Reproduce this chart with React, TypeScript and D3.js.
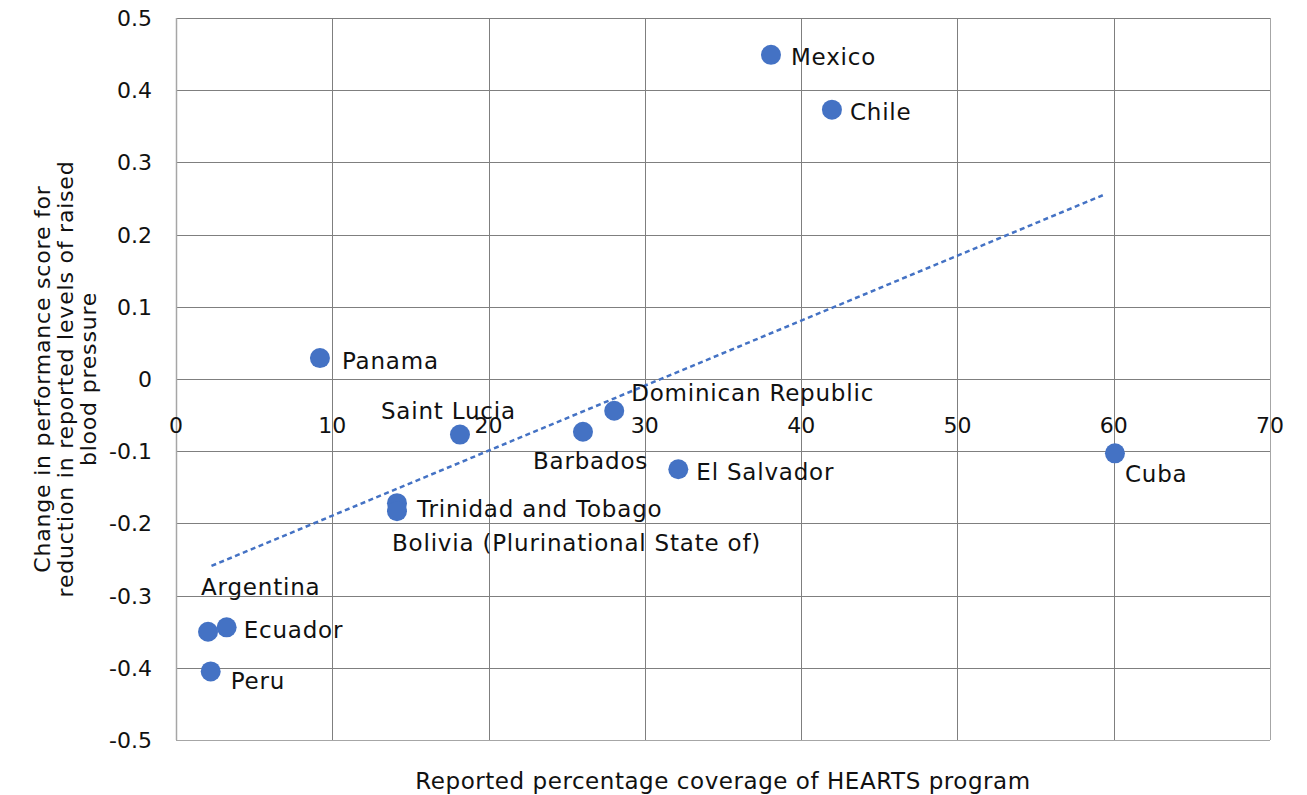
import React from "react";
import * as d3 from "d3";

const countries = [
  "Mexico", "Chile", "Panama", "Saint Lucia", "Barbados", "Dominican Republic",
  "El Salvador", "Cuba", "Trinidad and Tobago", "Bolivia (Plurinational State of)",
  "Argentina", "Ecuador", "Peru",
];
const coverage = [38.07, 41.97, 9.21, 18.17, 26.04, 28.04, 32.14, 60.08, 14.14, 14.14, 2.05, 3.24, 2.22];
const scoreChange = [0.449, 0.373, 0.029, -0.077, -0.073, -0.044, -0.125, -0.103, -0.172, -0.183, -0.350, -0.344, -0.405];

const xTicks = [0, 10, 20, 30, 40, 50, 60, 70];
const yTicks = [0.5, 0.4, 0.3, 0.2, 0.1, 0, -0.1, -0.2, -0.3, -0.4, -0.5];
const trendRange = [2.27, 59.3];

const xTitle = "Reported percentage coverage of HEARTS program";
const yTitleLines = [
  "Change in performance score for",
  "reduction in reported levels of raised",
  "blood pressure",
];

// label placement: offset of text start (dx) and cap-centre (dy) relative to the point
const labelOffsets: Record<string, [number, number]> = {
  "Mexico": [20, 2],
  "Chile": [18, 2],
  "Panama": [22, 3],
  "Saint Lucia": [-79, -24],
  "Barbados": [-50, 29],
  "Dominican Republic": [17, -18],
  "El Salvador": [18, 3],
  "Cuba": [10, 21],
  "Trinidad and Tobago": [20, 6],
  "Bolivia (Plurinational State of)": [-5, 32],
  "Argentina": [-7, -45],
  "Ecuador": [17, 3],
  "Peru": [20, 10],
};

const W = 1307;
const H = 795;
const margin = { left: 176, right: 37, top: 18, bottom: 55 };
const FONT = "'DejaVu Sans', sans-serif";
const BLUE = "#4472C4";
const TXT = "#111";
const CAP = 8; // half cap height

export default function App() {
  const x = d3.scaleLinear().domain([0, 70]).range([margin.left, W - margin.right]);
  const y = d3.scaleLinear().domain([-0.5, 0.5]).range([H - margin.bottom, margin.top]);

  const pts = countries.map((c, i) => ({ name: c, x: coverage[i], y: scoreChange[i] }));

  // least-squares trend
  const mx = d3.mean(coverage)!;
  const my = d3.mean(scoreChange)!;
  const sxy = d3.sum(coverage.map((v, i) => (v - mx) * (scoreChange[i] - my)));
  const sxx = d3.sum(coverage.map((v) => (v - mx) ** 2));
  const slope = sxy / sxx;
  const intercept = my - slope * mx;
  const trend = d3
    .line<number>()
    .x((v) => x(v))
    .y((v) => y(intercept + slope * v))(trendRange);

  const x0 = x(0);
  const x70 = x(70);
  const yTop = y(0.5);
  const yBot = y(-0.5);
  const yZero = y(0);

  return (
    <svg
      width={W}
      height={H}
      style={{ position: "absolute", left: 0, top: 0, background: "#fff" }}
      fontFamily={FONT}
    >
      <rect x={0} y={0} width={W} height={H} fill="#fff" />
      {/* horizontal gridlines */}
      {yTicks.map((t) => (
        <line
          key={"h" + t}
          x1={x0}
          x2={x70}
          y1={Math.round(y(t)) + 0.5}
          y2={Math.round(y(t)) + 0.5}
          stroke={t === -0.5 ? "#a6a6a6" : "#7f7f7f"}
          strokeWidth={1}
        />
      ))}
      {/* vertical gridlines */}
      {xTicks.map((t) => (
        <line
          key={"v" + t}
          x1={Math.round(x(t)) + 0.5}
          x2={Math.round(x(t)) + 0.5}
          y1={yTop}
          y2={yBot}
          stroke={t === 0 || t === 70 ? "#a6a6a6" : "#7f7f7f"}
          strokeWidth={t === 0 ? 1.5 : 1}
        />
      ))}
      {/* y tick labels */}
      {yTicks.map((t) => (
        <text key={"yl" + t} x={152} y={y(t) + CAP} textAnchor="end" fontSize={22} fill={TXT}>
          {String(t)}
        </text>
      ))}
      {/* x tick labels near zero line */}
      {xTicks.map((t) => (
        <text key={"xl" + t} x={x(t)} y={yZero + 54} textAnchor="middle" fontSize={22} fill={TXT}>
          {String(t)}
        </text>
      ))}
      {/* points */}
      {pts.map((p) => (
        <circle key={"c" + p.name} cx={x(p.x)} cy={y(p.y)} r={10} fill={BLUE} />
      ))}
      {/* trendline */}
      <path d={trend ?? ""} fill="none" stroke={BLUE} strokeWidth={2.5} strokeDasharray="5,3.5" />
      {/* data labels */}
      {pts.map((p) => {
        const [dx, dy] = labelOffsets[p.name];
        return (
          <text
            key={"l" + p.name}
            x={x(p.x) + dx}
            y={y(p.y) + dy + CAP}
            fontSize={23}
            letterSpacing={0.8}
            fill={TXT}
          >
            {p.name}
          </text>
        );
      })}
      {/* axis titles */}
      <text
        x={(x0 + x70) / 2}
        y={789}
        textAnchor="middle"
        fontSize={23}
        letterSpacing={0.55}
        fill={TXT}
      >
        {xTitle}
      </text>
      {yTitleLines.map((line, i) => (
        <text
          key={"yt" + i}
          transform={`translate(${50 + i * 23},${(yTop + yBot) / 2}) rotate(-90)`}
          textAnchor="middle"
          fontSize={22}
          letterSpacing={0.8}
          fill={TXT}
        >
          {line}
        </text>
      ))}
    </svg>
  );
}
